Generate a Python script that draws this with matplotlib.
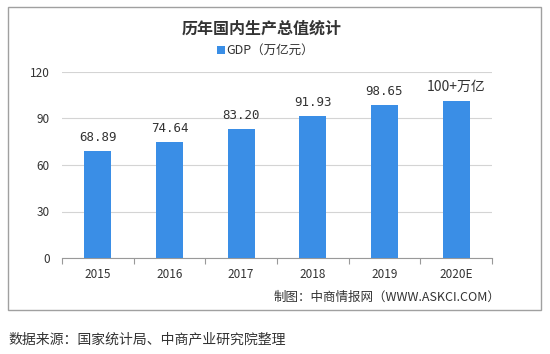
import matplotlib
matplotlib.use("Agg")
import matplotlib.pyplot as plt
from matplotlib.patches import Rectangle

plt.rcParams['font.family'] = ['Noto Sans CJK SC', 'DejaVu Sans']

categories = ['2015', '2016', '2017', '2018', '2019', '2020E']
values = [68.89, 74.64, 83.20, 91.93, 98.65, 101.6]
labels = ['68.89', '74.64', '83.20', '91.93', '98.65', '100+万亿']
yticks = [0, 30, 60, 90, 120]

W, H = 550, 354
fig = plt.figure(figsize=(W/100, H/100), dpi=100)

# outer frame
fig.patches.append(Rectangle((8/W, 1-310/H), 533/W, 303/H, transform=fig.transFigure,
                             fill=False, edgecolor='#a0a0a0', linewidth=1.0))

ax = fig.add_axes([62/W, 1-258/H, 430/W, 186/H])
x = list(range(len(categories)))
bar_color = '#3a8ee6'
ax.bar(x, values, width=0.38, color=bar_color, zorder=3)
ax.set_xlim(-0.5, len(categories)-0.5)
ax.set_ylim(0, 120)
ax.set_yticks(yticks)
ax.set_yticklabels([str(t) for t in yticks], fontsize=8.5, color='#333333')
ax.set_xticks(x)
ax.set_xticklabels(categories, fontsize=8.5, color='#333333')
ax.tick_params(axis='y', length=0, pad=9)
ax.tick_params(axis='x', length=0, pad=7)
ax.set_xticks([i - 0.5 for i in range(len(categories)+1)], minor=True)
ax.tick_params(axis='x', which='minor', length=4, color='#999999', width=0.8, direction='out')
ax.grid(axis='y', color='#d4d4d4', linewidth=0.8, zorder=0)
for s in ['top', 'right', 'left']:
    ax.spines[s].set_visible(False)
ax.spines['bottom'].set_color('#999999')
ax.spines['bottom'].set_linewidth(0.8)

for xi, v, lab in zip(x, values, labels):
    if lab[0].isdigit() and '万' not in lab:
        fam = ['DejaVu Sans Mono', 'Noto Sans CJK SC']
        fs = 9
    else:
        fam = ['Noto Sans CJK SC', 'DejaVu Sans']
        fs = 10
    ax.annotate(lab, (xi, v), xytext=(0, 5), textcoords='offset points',
                ha='center', va='bottom', fontsize=fs, color='#333333', family=fam)

fig.text(262/W, 1-29/H, '历年国内生产总值统计', ha='center', va='center',
         fontsize=11.5, fontweight='bold', color='#333333')
fig.patches.append(Rectangle((217/W, 1-54/H), 8/W, 8/H, transform=fig.transFigure,
                             facecolor=bar_color, edgecolor='none'))
fig.text(226/W, 1-50/H, 'GDP（万亿元）', ha='left', va='center', fontsize=9, color='#333333')

fig.text(500/W, 1-297/H, '制图：中商情报网（WWW.ASKCI.COM）', ha='right', va='center',
         fontsize=9, color='#333333')
fig.text(8/W, 1-339/H, '数据来源：国家统计局、中商产业研究院整理', ha='left', va='center',
         fontsize=10, color='#333333')

fig.savefig('out.png', dpi=100)
